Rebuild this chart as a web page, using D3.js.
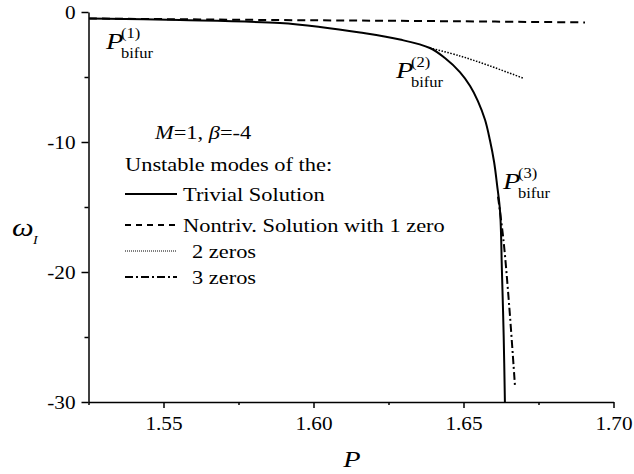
<!DOCTYPE html>
<html>
<head>
<meta charset="utf-8">
<script src="https://cdn.jsdelivr.net/npm/d3@7"></script>
<style>
  body { margin: 0; background: #fff; }
  svg { display: block; }
  text { font-family: "Liberation Serif", "Times New Roman", Times, Tinos, serif; }
</style>
</head>
<body>
<div class="js-chart"></div>
<script>
// unstable modes
const trivialP = [1.5252, 1.5555, 1.5888, 1.6022, 1.6155, 1.6288, 1.6388, 1.6438, 1.6488, 1.6522, 1.6548, 1.6572, 1.6588, 1.6602, 1.6612, 1.6622, 1.6628, 1.6634, 1.6638];
const trivialW = [-0.5, -0.62, -0.85, -1.15, -1.58, -2.12, -2.77, -3.54, -4.62, -5.69, -6.85, -8.31, -9.85, -11.54, -13.31, -15.38, -19.85, -25, -30];

const oneZeroP = [1.5252, 1.5888, 1.64, 1.6905];
const oneZeroW = [-0.5, -0.62, -0.7, -0.8];

const twoZeroP = [1.6388, 1.6488, 1.6588, 1.6698];
const twoZeroW = [-2.77, -3.38, -4.15, -5.08];

const threeZeroP = [1.6615, 1.6633, 1.6652, 1.6672];
const threeZeroW = [-14.2, -17.5, -22.5, -28.9];

const xMajor = [1.55, 1.60, 1.65, 1.70];
const xMinor = [1.525, 1.575, 1.625, 1.675];
const yMajor = [0, -10, -20, -30];
const yMinor = [-5, -15, -25];

const legendLabels = ["Trivial Solution", "Nontriv. Solution with 1 zero", "2 zeros", "3 zeros"];

const width = 634
    , height = 474
    , SX = 1.18
    ;

const x = d3.scaleLinear().domain([1.525, 1.70]).range([88.5, 613.5]);
const y = d3.scaleLinear().domain([-30, 0]).range([402, 12]);

const svg = d3.select(".js-chart")
  .append("svg")
  .attr("width", width)
  .attr("height", height);

const styles = [
  {dash: null, w: 2},
  {dash: "8,5", w: 2},
  {dash: "1.5,1.5", w: 1.5},
  {dash: "8,3,2,3", w: 2}
];

const series = [
  d3.zip(trivialP, trivialW),
  d3.zip(oneZeroP, oneZeroW),
  d3.zip(twoZeroP, twoZeroW),
  d3.zip(threeZeroP, threeZeroW)
];

const line = d3.line()
  .x(d => x(d[0]))
  .y(d => y(d[1]))
  .curve(d3.curveCatmullRom);

svg.append("g")
  .attr("fill", "none")
  .attr("stroke", "#000")
  .selectAll("path")
  .data(series)
  .join("path")
  .attr("d", line)
  .attr("stroke-width", (d, i) => styles[i].w)
  .attr("stroke-dasharray", (d, i) => styles[i].dash);

// axes
const xAxis = svg.append("g")
  .attr("transform", `translate(0,${y(-30)})`)
  .call(d3.axisBottom(x).tickValues(xMajor).tickSize(6).tickSizeOuter(0).tickFormat(d3.format(".2f")));

svg.append("g")
  .attr("transform", `translate(0,${y(-30)})`)
  .call(d3.axisBottom(x).tickValues(xMinor).tickSize(3).tickSizeOuter(0).tickFormat(""))
  .select(".domain").remove();

const yAxis = svg.append("g")
  .attr("transform", `translate(${x(1.525)},0)`)
  .call(d3.axisLeft(y).tickValues(yMajor).tickSize(7).tickSizeOuter(0).tickFormat(d => String(d)));

svg.append("g")
  .attr("transform", `translate(${x(1.525)},0)`)
  .call(d3.axisLeft(y).tickValues(yMinor).tickSize(4).tickSizeOuter(0).tickFormat(""))
  .select(".domain").remove();

svg.selectAll(".domain, .tick line")
  .attr("stroke", "#000")
  .attr("stroke-width", 1.5);

svg.selectAll(".tick text")
  .attr("font-family", null)
  .attr("font-size", null)
  .style("font-size", "18px")
  .attr("fill", "#000");

xAxis.selectAll(".tick text")
  .attr("y", 0).attr("dy", 0)
  .attr("transform", `translate(0,28) scale(${SX},1)`);

yAxis.selectAll(".tick text")
  .attr("x", 0).attr("dy", 0)
  .attr("transform", `translate(-13,6) scale(${SX},1)`);

function label(px, py, str, size, opts) {
  opts = opts || {};
  return svg.append("text")
    .attr("transform", `translate(${px},${py}) scale(${SX},1)`)
    .attr("text-anchor", opts.anchor || "start")
    .style("font-size", size + "px")
    .style("font-style", opts.italic ? "italic" : "normal")
    .attr("fill", "#000")
    .text(str);
}

// axis titles
label(352, 467, "P", 24, {italic: true, anchor: "middle"});
label(12, 236, "ω", 26, {italic: true});
label(33, 244, "I", 12, {italic: true});

// bifurcation labels
function bifur(px, py, n) {
  label(px, py, "P", 24, {italic: true});
  label(px + 15, py - 11, `(${n})`, 14);
  label(px + 15, py + 9, "bifur", 14);
}
bifur(106, 49, 1);
bifur(396, 78, 2);
bifur(503, 189, 3);

// legend
const title = label(155, 139, "", 19);
title.append("tspan").style("font-style", "italic").text("M");
title.append("tspan").text("=1, ");
title.append("tspan").style("font-style", "italic").text("β");
title.append("tspan").text("=-4");

label(125, 171, "Unstable modes of the:", 19);

const legendY = [201, 232, 258, 284];
const legendTextX = [183, 183, 192, 192];

legendLabels.forEach((t, i) => {
  svg.append("line")
    .attr("x1", 125).attr("x2", 177)
    .attr("y1", legendY[i] - 7).attr("y2", legendY[i] - 7)
    .attr("stroke", "#000")
    .attr("stroke-width", i == 2 ? 1 : 2)
    .attr("stroke-dasharray", i == 1 ? "6,5" : i == 2 ? "1,1" : styles[i].dash);
  label(legendTextX[i], legendY[i], t, 19);
});
</script>
</body>
</html>
